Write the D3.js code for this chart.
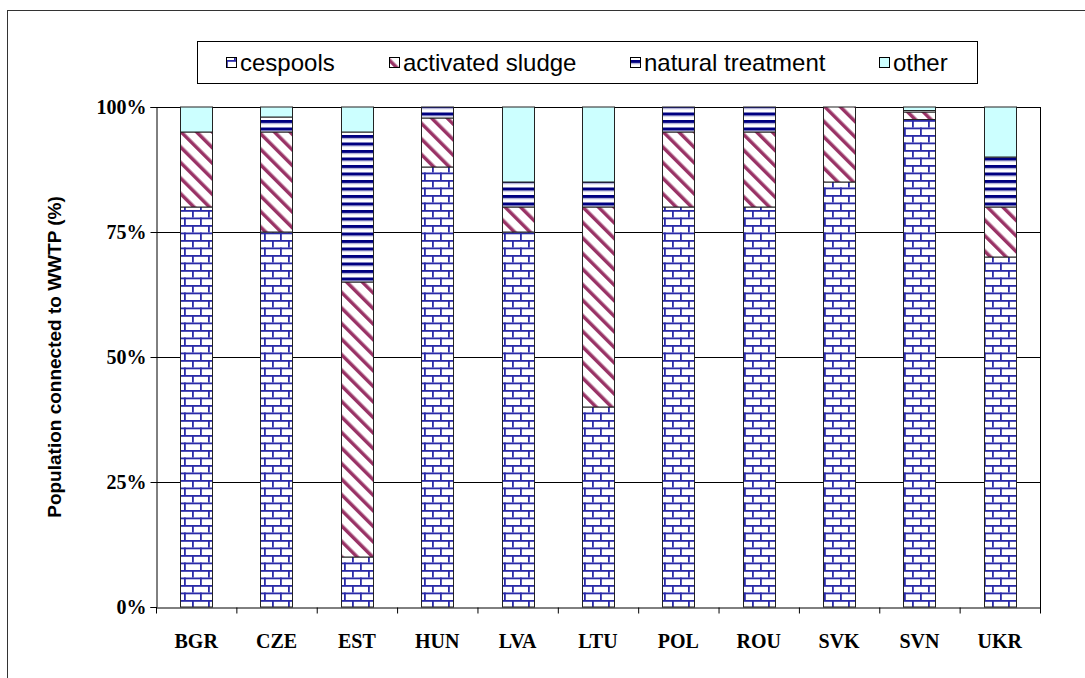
<!DOCTYPE html>
<meta charset="utf-8">

<script src="https://d3js.org/d3.v7.min.js"></script>

<style type="text/css">

body {
  margin: 0;
  background: #fff;
}

.tickLabel {
  font-family: "Liberation Serif", "Times New Roman", serif;
  font-weight: bold;
  font-size: 20px;
}

.legendText {
  font-family: "Liberation Sans", Arial, sans-serif;
  font-size: 24px;
}

</style>

<body>
</body>

<script>

// countries along the x axis
var countries = ["BGR", "CZE", "EST", "HUN", "LVA", "LTU", "POL", "ROU", "SVK", "SVN", "UKR"];

// share of population (%) per treatment type
var cespools  = [80, 75, 10, 88, 75, 40, 80, 80, 85, 97.5, 70];
var activated = [15, 20, 55, 9.8, 5, 40, 15, 15, 15, 1.5, 10];
var natural   = [0, 3, 30, 2.2, 5, 5, 5, 5, 0, 0.3, 10];
var other     = [5, 2, 5, 0, 15, 15, 0, 0, 0, 0.7, 10];

var seriesNames = ["cespools", "activated sludge", "natural treatment", "other"];
var yTicks = [0, 25, 50, 75, 100];
var yTickLabels = ["0%", "25%", "50%", "75%", "100%"];

// build one row per country for d3.stack
var rows = countries.map(function(c, i) {
  return {
    country: c,
    "cespools": cespools[i],
    "activated sludge": activated[i],
    "natural treatment": natural[i],
    "other": other[i]
  };
});

var width = 1085;
var height = 678;
var plot = {left: 156, right: 1040, top: 107, bottom: 607};

var svg = d3.select("body").append("svg")
    .attr("width", width)
    .attr("height", height);

// *1* fill patterns, like the excel ones
var defs = svg.append("defs");

var brick = defs.append("pattern")
    .attr("id", "brick")
    .attr("patternUnits", "userSpaceOnUse")
    .attr("width", 16)
    .attr("height", 15);
brick.append("rect").attr("width", 16).attr("height", 15).attr("fill", "#fff");
brick.append("rect").attr("y", 0).attr("width", 16).attr("height", 1.8).attr("fill", "#2a2aa8");
brick.append("rect").attr("x", 0).attr("y", 0).attr("width", 1.8).attr("height", 7.5).attr("fill", "#2a2aa8");
brick.append("rect").attr("y", 7.5).attr("width", 16).attr("height", 1.8).attr("fill", "#2a2aa8");
brick.append("rect").attr("x", 8).attr("y", 7.5).attr("width", 1.8).attr("height", 7.5).attr("fill", "#2a2aa8");

var diag = defs.append("pattern")
    .attr("id", "diag")
    .attr("patternUnits", "userSpaceOnUse")
    .attr("width", 11)
    .attr("height", 11)
    .attr("patternTransform", "rotate(-45)");
diag.append("rect").attr("width", 11).attr("height", 11).attr("fill", "#fff");
diag.append("rect").attr("width", 3.5).attr("height", 11).attr("fill", "#993366");

var hstripe = defs.append("pattern")
    .attr("id", "hstripe")
    .attr("patternUnits", "userSpaceOnUse")
    .attr("width", 8)
    .attr("height", 7.5);
hstripe.append("rect").attr("width", 8).attr("height", 7.5).attr("fill", "#fff");
hstripe.append("rect").attr("width", 8).attr("height", 3).attr("fill", "#000080");
hstripe.append("rect").attr("y", 3).attr("width", 8).attr("height", 1).attr("fill", "#9a9ad0");

var fills = {
  "cespools": "url(#brick)",
  "activated sludge": "url(#diag)",
  "natural treatment": "url(#hstripe)",
  "other": "#ccffff"
};

// outer frame of the chart object
svg.append("rect")
    .attr("x", 7.5)
    .attr("y", 10.5)
    .attr("width", 1200)
    .attr("height", 800)
    .attr("fill", "none")
    .attr("stroke", "#333");

// *2* scales
var x = d3.scaleBand()
    .domain(countries)
    .range([plot.left, plot.right])
    .paddingInner(0.6)
    .paddingOuter(0.3);

var xEdges = d3.scaleLinear()
    .domain([0, countries.length])
    .range([plot.left, plot.right]);

var y = d3.scaleLinear()
    .domain([0, 100])
    .range([plot.bottom, plot.top]);

// gridlines
svg.append("g")
    .selectAll("line")
    .data(yTicks.slice(1))
    .enter().append("line")
    .attr("x1", plot.left)
    .attr("x2", plot.right)
    .attr("y1", function(d) { return Math.round(y(d)) + 0.5; })
    .attr("y2", function(d) { return Math.round(y(d)) + 0.5; })
    .attr("stroke", "#000")
    .attr("stroke-width", 1);

// right edge of plot area
svg.append("line")
    .attr("x1", plot.right + 0.5)
    .attr("x2", plot.right + 0.5)
    .attr("y1", plot.top)
    .attr("y2", plot.bottom + 6)
    .attr("stroke", "#000");

// *3* stacked bars
var stack = d3.stack().keys(seriesNames);
var layers = stack(rows);

svg.append("g")
    .selectAll("g")
    .data(layers)
    .enter().append("g")
    .attr("fill", function(d) { return fills[d.key]; })
    .selectAll("rect")
    .data(function(d) { return d.filter(function(p) { return p[1] - p[0] > 0; }); })
    .enter().append("rect")
    .attr("x", function(d) { return Math.round(x(d.data.country)) + 0.5; })
    .attr("width", Math.round(x.bandwidth()))
    .attr("y", function(d) { return y(d[1]); })
    .attr("height", function(d) { return y(d[0]) - y(d[1]); })
    .attr("stroke", "#222")
    .attr("stroke-width", 1);

// *4* axes
var yAxis = svg.append("g")
    .attr("transform", "translate(" + (plot.left + 0.5) + ",0)")
    .call(d3.axisLeft(y)
      .tickValues(yTicks)
      .tickSize(6)
      .tickPadding(4)
      .tickFormat(function(d, i) { return yTickLabels[i]; }));
yAxis.select(".domain").attr("stroke", "#000");
yAxis.selectAll("text").attr("class", "tickLabel").attr("fill", "#000");

var xTicks = svg.append("g")
    .attr("transform", "translate(0," + (plot.bottom + 0.5) + ")")
    .call(d3.axisBottom(xEdges)
      .tickValues(d3.range(countries.length + 1))
      .tickSize(6)
      .tickSizeOuter(0)
      .tickFormat(""));
xTicks.select(".domain").attr("stroke", "#000");

var xLabels = svg.append("g")
    .attr("transform", "translate(0," + (plot.bottom + 0.5) + ")")
    .call(d3.axisBottom(x).tickSize(0).tickPadding(26));
xLabels.select(".domain").remove();
xLabels.selectAll("text").attr("class", "tickLabel").attr("fill", "#000");

// y axis title
svg.append("text")
    .attr("transform", "translate(61," + ((plot.top + plot.bottom) / 2) + ") rotate(-90)")
    .attr("text-anchor", "middle")
    .attr("font-family", "Liberation Sans, Arial, sans-serif")
    .attr("font-weight", "bold")
    .attr("font-size", 19)
    .text("Population connected to WWTP (%)");

// *5* legend, entries spread evenly across the box like excel does
var legendBox = {x: 197, y: 41, w: 780, h: 42};

svg.append("rect")
    .attr("x", legendBox.x + 0.5)
    .attr("y", legendBox.y + 0.5)
    .attr("width", legendBox.w)
    .attr("height", legendBox.h)
    .attr("fill", "#fff")
    .attr("stroke", "#000");

var legend = svg.selectAll(".legendItem")
    .data(seriesNames)
    .enter().append("g")
    .attr("class", "legendItem");

legend.append("rect")
    .attr("x", 0.5)
    .attr("y", 57.5)
    .attr("width", 10)
    .attr("height", 10)
    .attr("fill", function(d) { return fills[d]; })
    .attr("stroke", "#000");

legend.append("text")
    .attr("class", "legendText")
    .attr("x", 14)
    .attr("y", 63)
    .attr("dy", "0.35em")
    .text(function(d) { return d; });

var entryW = [];
legend.each(function() { entryW.push(14 + d3.select(this).select("text").node().getComputedTextLength()); });
var gap = (legendBox.w - d3.sum(entryW)) / (seriesNames.length + 0.1);
var cursor = legendBox.x + gap * 0.55;
legend.attr("transform", function(d, i) {
  var t = "translate(" + Math.round(cursor) + ",0)";
  cursor += entryW[i] + gap;
  return t;
});

</script>
